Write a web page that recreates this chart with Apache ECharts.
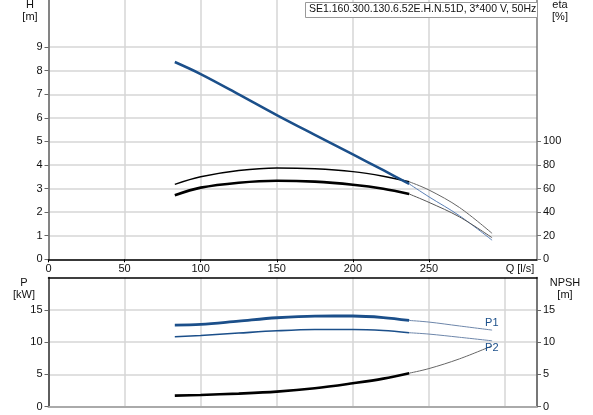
<!DOCTYPE html>
<html><head><meta charset="utf-8">
<script src="https://cdn.jsdelivr.net/npm/echarts@6/dist/echarts.min.js"></script>
<style>html,body{margin:0;padding:0;background:#fff}#c{width:593px;height:415px}</style>
</head><body><div id="c"></div>
<script>
// Flow (Q, l/s) sample points: operating range (thick) and extension (thin)
const qOp  = [83, 100, 125, 150, 175, 200, 220, 237];
const qExt = [237, 250, 270, 291.5];

// Head H [m]
const hOp  = [8.37, 7.86, 7.0, 6.12, 5.28, 4.45, 3.78, 3.2];
const hExt = [3.2, 2.65, 1.85, 0.81];

// Efficiency eta [%] – upper (thin) and lower (thick)
const eta1Op  = [63.6, 70.0, 75.3, 77.5, 76.8, 74.4, 70.5, 65.8];
const eta1Ext = [65.8, 58.8, 44.0, 22.0];
const eta2Op  = [54.3, 60.8, 65.0, 66.7, 65.9, 63.3, 59.9, 55.4];
const eta2Ext = [55.4, 48.3, 36.0, 18.3];

// Power P1, P2 [kW]
const p1Op  = [12.64, 12.73, 13.25, 13.77, 14.03, 14.04, 13.8, 13.35];
const p1Ext = [13.35, 13.1, 12.5, 11.86];
const p2Op  = [10.82, 11.03, 11.4, 11.75, 11.95, 11.96, 11.8, 11.45];
const p2Ext = [11.45, 11.24, 10.75, 10.2];

// NPSH [m]
const npshOp  = [1.71, 1.82, 2.03, 2.33, 2.85, 3.63, 4.35, 5.19];
const npshExt = [5.19, 5.9, 7.4, 9.42];

// Tick labels
const qLabels    = [0, 50, 100, 150, 200, 250];
const hLabels    = [0, 1, 2, 3, 4, 5, 6, 7, 8, 9];
const etaLabels  = [0, 20, 40, 60, 80, 100];
const pLabels    = [0, 5, 10, 15];
const npshLabels = [0, 5, 10, 15];

const title = 'SE1.160.300.130.6.52E.H.N.51D, 3*400 V, 50Hz';

const pairs = (qs, vs) => qs.map((q, i) => [q, vs[i]]);
const FONT = '"Liberation Sans", Arial, sans-serif';
const BLUE = '#1b4f8a';
const GRID_C = '#d6d6d6';

const chart = echarts.init(document.getElementById('c'), null, {renderer: 'canvas'});

function line(name, xi, yi, data, color, width, extra) {
  return Object.assign({
    name, type: 'line', xAxisIndex: xi, yAxisIndex: yi, data,
    showSymbol: false, symbol: 'none', smooth: 0.35,
    lineStyle: {color, width}, silent: true, animation: false, z: 3
  }, extra || {});
}

const lblStyle = {color: '#111', fontSize: 11, fontFamily: FONT};

chart.setOption({
  animation: false,
  grid: [
    {left: 48.5, right: 56, top: 0, height: 259.3},
    {left: 48.5, right: 56, top: 277.5, height: 129.2}
  ],
  xAxis: [
    {gridIndex: 0, type: 'value', min: 0, max: 321, interval: 50, position: 'bottom',
     axisLine: {show: true, onZero: false, lineStyle: {color: '#000', width: 1.5}},
     axisTick: {show: true, length: 3, customValues: qLabels, lineStyle: {color: '#000'}},
     axisLabel: Object.assign({margin: 4, customValues: qLabels}, lblStyle),
     splitLine: {show: true, lineStyle: {color: GRID_C, width: 1.5}}},
    {gridIndex: 1, type: 'value', min: 0, max: 321, interval: 50, position: 'bottom',
     axisLine: {show: true, onZero: false, lineStyle: {color: '#aaa', width: 2}},
     axisTick: {show: false}, axisLabel: {show: false},
     splitLine: {show: true, lineStyle: {color: GRID_C, width: 1.5}}},
    {gridIndex: 1, type: 'value', min: 0, max: 321, interval: 50, position: 'top',
     axisLine: {show: true, onZero: false, lineStyle: {color: '#000', width: 1.5}},
     axisTick: {show: false}, axisLabel: {show: false}, splitLine: {show: false}}
  ],
  yAxis: [
    {gridIndex: 0, type: 'value', min: 0, max: 11, interval: 1, position: 'left',
     axisLine: {show: true, onZero: false, lineStyle: {color: '#666', width: 1.5}},
     axisTick: {show: true, length: 4, customValues: hLabels, lineStyle: {color: '#666'}},
     axisLabel: Object.assign({margin: 6, customValues: hLabels}, lblStyle),
     splitLine: {show: true, lineStyle: {color: GRID_C, width: 1.5}}},
    {gridIndex: 0, type: 'value', min: 0, max: 220, interval: 20, position: 'right',
     axisLine: {show: true, onZero: false, lineStyle: {color: '#777', width: 1.5}},
     axisTick: {show: true, length: 4, customValues: etaLabels, lineStyle: {color: '#777'}},
     axisLabel: Object.assign({margin: 6, customValues: etaLabels}, lblStyle),
     splitLine: {show: false}},
    {gridIndex: 1, type: 'value', min: 0, max: 20, interval: 5, position: 'left',
     axisLine: {show: true, onZero: false, lineStyle: {color: '#333', width: 1.5}},
     axisTick: {show: true, length: 4, customValues: pLabels, lineStyle: {color: '#666'}},
     axisLabel: Object.assign({margin: 6, customValues: pLabels}, lblStyle),
     splitLine: {show: true, lineStyle: {color: GRID_C, width: 1.5}}},
    {gridIndex: 1, type: 'value', min: 0, max: 20, interval: 5, position: 'right',
     axisLine: {show: true, onZero: false, lineStyle: {color: '#555', width: 1.5}},
     axisTick: {show: true, length: 4, customValues: npshLabels, lineStyle: {color: '#666'}},
     axisLabel: Object.assign({margin: 6, customValues: npshLabels}, lblStyle),
     splitLine: {show: false}}
  ],
  series: [
    line('H ext', 0, 0, pairs(qExt, hExt), '#5a7fb5', 1),
    line('eta1 ext', 0, 1, pairs(qExt, eta1Ext), '#666', 1),
    line('eta2 ext', 0, 1, pairs(qExt, eta2Ext), '#555', 1),
    line('H', 0, 0, pairs(qOp, hOp), BLUE, 2.5, {z: 5}),
    line('eta1', 0, 1, pairs(qOp, eta1Op), '#000', 1.4),
    line('eta2', 0, 1, pairs(qOp, eta2Op), '#000', 2.6),
    line('P1 ext', 1, 2, pairs(qExt, p1Ext), '#6d86aa', 1,
      {endLabel: {show: true, formatter: 'P1', color: BLUE, fontSize: 11, fontFamily: FONT,
                  distance: 0, align: 'left', verticalAlign: 'middle', offset: [-7, -7]}}),
    line('P2 ext', 1, 2, pairs(qExt, p2Ext), '#6d86aa', 1,
      {endLabel: {show: true, formatter: 'P2', color: BLUE, fontSize: 11, fontFamily: FONT,
                  distance: 0, align: 'left', verticalAlign: 'middle', offset: [-7, 7]}}),
    line('NPSH ext', 1, 3, pairs(qExt, npshExt), '#666', 1),
    line('P1', 1, 2, pairs(qOp, p1Op), BLUE, 2.8),
    line('P2', 1, 2, pairs(qOp, p2Op), BLUE, 1.6),
    line('NPSH', 1, 3, pairs(qOp, npshOp), '#000', 2.6)
  ],
  graphic: [
    {type: 'rect', left: 305, top: 2, z: 10, shape: {width: 232, height: 15},
     style: {fill: '#fff', stroke: '#999', lineWidth: 1}},
    {type: 'text', left: 309, top: 4, z: 11, style: {text: title, fill: '#111', font: '10.5px ' + FONT}},
    {type: 'text', x: 30, y: 5, z: 11, style: {text: 'H', fill: '#111', font: '11px ' + FONT, align: 'center', verticalAlign: 'middle'}},
    {type: 'text', x: 30, y: 17, z: 11, style: {text: '[m]', fill: '#111', font: '11px ' + FONT, align: 'center', verticalAlign: 'middle'}},
    {type: 'text', x: 560, y: 5, z: 11, style: {text: 'eta', fill: '#111', font: '11px ' + FONT, align: 'center', verticalAlign: 'middle'}},
    {type: 'text', x: 560, y: 17, z: 11, style: {text: '[%]', fill: '#111', font: '11px ' + FONT, align: 'center', verticalAlign: 'middle'}},
    {type: 'text', x: 520, y: 269, z: 11, style: {text: 'Q [l/s]', fill: '#111', font: '11px ' + FONT, align: 'center', verticalAlign: 'middle'}},
    {type: 'text', x: 24, y: 283, z: 11, style: {text: 'P', fill: '#111', font: '11px ' + FONT, align: 'center', verticalAlign: 'middle'}},
    {type: 'text', x: 24, y: 295, z: 11, style: {text: '[kW]', fill: '#111', font: '11px ' + FONT, align: 'center', verticalAlign: 'middle'}},
    {type: 'text', x: 565, y: 283, z: 11, style: {text: 'NPSH', fill: '#111', font: '11px ' + FONT, align: 'center', verticalAlign: 'middle'}},
    {type: 'text', x: 565, y: 295, z: 11, style: {text: '[m]', fill: '#111', font: '11px ' + FONT, align: 'center', verticalAlign: 'middle'}}
  ]
});
</script>
</body></html>
